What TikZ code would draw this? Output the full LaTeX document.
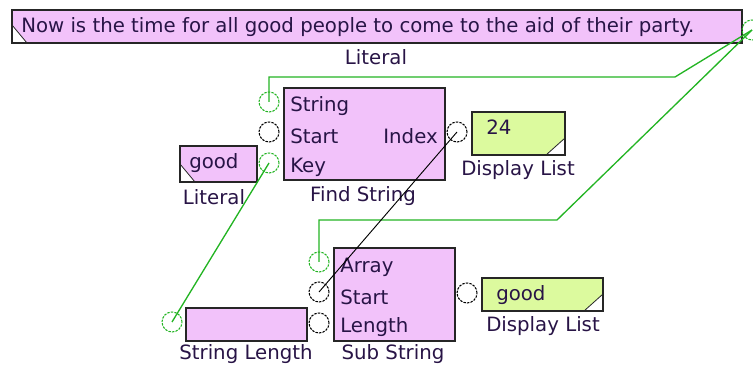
\documentclass[tikz,border=0pt]{standalone}
\usepackage{fontspec}
\setmainfont{DejaVu Sans}
\usetikzlibrary{fit}

\definecolor{boxpink}{RGB}{242,194,250}
\definecolor{boxgreen}{RGB}{220,250,158}
\definecolor{wiregreen}{RGB}{35,180,35}
\definecolor{labtext}{RGB}{40,20,70}
\newcommand\lbl{\fontsize{14.8}{17}\selectfont}

\begin{document}
\begin{tikzpicture}[x=0.75pt, y=-0.75pt,
  block/.style={rectangle, draw=black!85, line width=1.2pt, fill=boxpink, inner sep=0pt, outer sep=0pt},
  lit/.style={block, path picture={
      \fill[white] (path picture bounding box.south west) -- ++(0,-18) -- ++(15,18) -- cycle;
      \draw[line width=0.6pt] (path picture bounding box.south west) ++(0,-18) -- ++(15,18);}},
  disp/.style={block, fill=boxgreen, path picture={
      \fill[white] (path picture bounding box.south east) -- ++(0,-17) -- ++(-19,17) -- cycle;
      \draw[line width=0.6pt] (path picture bounding box.south east) ++(0,-17) -- ++(-19,17);}},
  port/.style={circle, draw=black, dash pattern=on 1.8pt off 0.9pt, line width=0.8pt, minimum size=15pt, inner sep=0pt},
  gport/.style={port, draw=wiregreen},
  txt/.style={font=\lbl, text=labtext, inner sep=0pt},
  title/.style={font=\lbl, text=labtext, inner sep=0pt},
  wire/.style={draw=wiregreen, line width=1pt},
  bwire/.style={draw=black, line width=0.7pt}
]
\useasboundingbox (0,0) rectangle (753,370);

% blocks
\node[lit, fit={(12,10) (742,43)}] (phrase) {};
\node[lit, fit={(180,146) (257,182)}] (key) {};
\node[block, fit={(284,88) (445,180)}] (find) {};
\node[disp, fit={(472,112) (565,155)}] (show1) {};
\node[block, fit={(334,248) (455,341)}] (sub) {};
\node[block, fit={(186,308) (307,341)}] (len) {};
\node[disp, fit={(482,278) (603,311)}] (show2) {};

% texts
\node[txt, anchor=west] (phraset) at (21,27) {Now is the time for all good people to come to the aid of their party.};
\node[txt, anchor=west] (keyt) at (189,163) {good};
\node[txt, anchor=west] (show1t) at (486,127) {24};
\node[txt, anchor=west] (show2t) at (496,295) {good};
\node[txt, anchor=west] (fs1) at (290,106) {String};
\node[txt, anchor=west] (fs2) at (290,136) {Start};
\node[txt, anchor=west] (fs3) at (290,167) {Key};
\node[txt, anchor=east] (fs4) at (438,136) {Index};
\node[txt, anchor=west] (ss1) at (340,267) {Array};
\node[txt, anchor=west] (ss2) at (340,297) {Start};
\node[txt, anchor=west] (ss3) at (340,327) {Length};

% captions
\node[title] (phrasec) at (376,57) {Literal};
\node[title] (keyc) at (214,197) {Literal};
\node[title] (findc) at (363,196) {Find String};
\node[title] (show1c) at (518,170) {Display List};
\node[title] (lenc) at (246,354) {String Length};
\node[title] (subc) at (393,354) {Sub String};
\node[title] (show2c) at (543,326) {Display List};

% ports
\node[gport] (phraseo) at (752,30) {};
\node[gport] (fsstr) at (269,102) {};
\node[port] (fsstart) at (269,132) {};
\node[gport] (fskey) at (269,163) {};
\node[port] (fsidx) at (457,132) {};
\node[gport] (ssarr) at (319,262) {};
\node[port] (ssstart) at (319,292) {};
\node[port] (sslen) at (319,323) {};
\node[port] (sso) at (467,293) {};
\node[gport] (lenin) at (172,322) {};

% wires
\coordinate (bend1) at (675,77);
\coordinate (bend2) at (557,220);
\draw[wire] (fsstr.center) |- (bend1) -- (phraseo.center);
\draw[wire] (ssarr.center) |- (bend2) -- (phraseo.center);
\draw[wire] (fskey.center) -- (lenin.center);
\draw[bwire] (fsidx.center) -- (ssstart.center);
\end{tikzpicture}
\end{document}
